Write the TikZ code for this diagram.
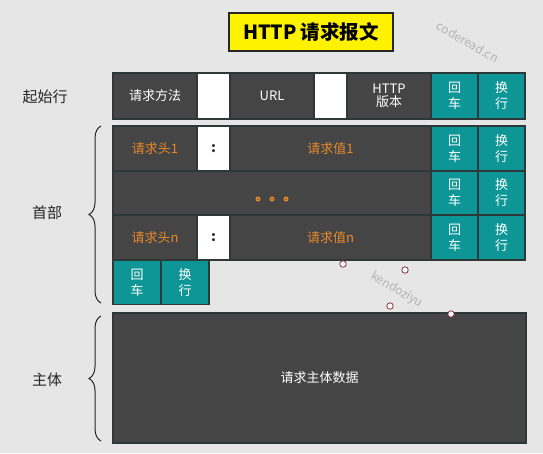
\documentclass[tikz,border=0pt]{standalone}
\usepackage{fontspec}
\setmainfont{Noto Sans CJK SC}
\usetikzlibrary{decorations.pathreplacing}
\definecolor{bg}{HTML}{E6E6E6}
\definecolor{darkcell}{HTML}{454545}
\definecolor{cellline}{HTML}{2E3838}
\definecolor{tealcell}{HTML}{0E9696}
\definecolor{orangetxt}{HTML}{E8892A}
\definecolor{labeltxt}{HTML}{262626}
\definecolor{wmark}{HTML}{B4B4B4}
\definecolor{handle}{HTML}{8A2E3E}
\tikzset{
  cell/.style={draw=cellline, line width=1.3pt, fill=darkcell, text=white, inner sep=0pt, align=center,
    font=\fontsize{13}{15}\selectfont},
  whitecell/.style={cell, fill=white, text=labeltxt, font=\fontsize{14}{15}\selectfont\bfseries},
  tealbox/.style={cell, fill=tealcell, font=\fontsize{13}{16}\selectfont},
  hdr/.style={cell, text=orangetxt},
  sidelabel/.style={text=labeltxt, font=\fontsize{15}{17}\selectfont},
  bracestyle/.style={draw=labeltxt, line width=1pt, decorate, decoration={brace, amplitude=12pt}},
  wm/.style={text=wmark, rotate=-30, font=\fontsize{12}{14}\selectfont},
  hnd/.style={circle, draw=handle, fill=white, line width=0.8pt, minimum size=6.5pt, inner sep=0pt}
}
\begin{document}
\begin{tikzpicture}[x=1pt,y=-1pt]
\fill[bg] (0,0) rectangle (543,453);
\useasboundingbox (0,0) rectangle (543,453);
% title
\node[draw=labeltxt, line width=1.5pt, fill=yellow, minimum width=164pt, minimum height=38pt, inner sep=0pt,
  font=\fontsize{19.5}{21}\selectfont\bfseries, text=black] (title) at (311,32) {HTTP 请求报文};
% watermarks
\node[wm] (wm1) at (468,42) {coderead.cn};
\node[wm] (wm2) at (397,290) {kendoziyu};
% row 1: start line
\node[cell, minimum width=84pt, minimum height=46pt] (m1) at (155,96) {请求方法};
\node[whitecell, minimum width=33pt, minimum height=46pt] (s1) at (213.5,96) {};
\node[cell, minimum width=84pt, minimum height=46pt] (url) at (272,96) {URL};
\node[whitecell, minimum width=33pt, minimum height=46pt] (s2) at (330.5,96) {};
\node[cell, minimum width=84pt, minimum height=46pt] (ver) at (389,96) {HTTP\\[-2pt]版本};
\node[tealbox, minimum width=47pt, minimum height=46pt] (cr1) at (454.5,96) {回\\车};
\node[tealbox, minimum width=47pt, minimum height=46pt] (lf1) at (501.5,96) {换\\行};
% row 2
\node[hdr, minimum width=84pt, minimum height=45pt] (h1) at (155,148.5) {请求头1};
\node[whitecell, minimum width=33pt, minimum height=45pt] (c1) at (213.5,148.5) {:};
\node[hdr, minimum width=201pt, minimum height=45pt] (v1) at (330.5,148.5) {请求值1};
\node[tealbox, minimum width=47pt, minimum height=45pt] (cr2) at (454.5,148.5) {回\\车};
\node[tealbox, minimum width=47pt, minimum height=45pt] (lf2) at (501.5,148.5) {换\\行};
% row 3
\node[hdr, minimum width=318pt, minimum height=44pt] (dots) at (272,193) {};
\foreach \dx in {-14,0,14} {
  \draw[orangetxt, line width=1pt, fill=orangetxt!60!darkcell] (dots.center) ++(\dx,6) circle (2);
}
\node[tealbox, minimum width=47pt, minimum height=44pt] (cr3) at (454.5,193) {回\\车};
\node[tealbox, minimum width=47pt, minimum height=44pt] (lf3) at (501.5,193) {换\\行};
% row 4
\node[hdr, minimum width=84pt, minimum height=45pt] (hn) at (155,237.5) {请求头n};
\node[whitecell, minimum width=33pt, minimum height=45pt] (cn) at (213.5,237.5) {:};
\node[hdr, minimum width=201pt, minimum height=45pt] (vn) at (330.5,237.5) {请求值n};
\node[tealbox, minimum width=47pt, minimum height=45pt] (cr4) at (454.5,237.5) {回\\车};
\node[tealbox, minimum width=47pt, minimum height=45pt] (lf4) at (501.5,237.5) {换\\行};
% row 5
\node[tealbox, minimum width=48pt, minimum height=44pt] (cr5) at (137,282.5) {回\\车};
\node[tealbox, minimum width=48pt, minimum height=44pt] (lf5) at (185,282.5) {换\\行};
% body
\node[cell, minimum width=413pt, minimum height=130pt] (body) at (319.5,378) {请求主体数据};
% side labels
\node[sidelabel] (lstart) at (45,97) {起始行};
\node[sidelabel] (lhead) at (47,213) {首部};
\node[sidelabel] (lbody) at (47,380) {主体};
% braces
\coordinate (b1s) at (101,303);
\coordinate (b1e) at (101,126);
\coordinate (b2s) at (101,441);
\coordinate (b2e) at (101,316);
\draw[bracestyle] (b1s) -- (b1e);
\draw[bracestyle] (b2s) -- (b2e);
% handles
\node[hnd] (k1) at (343,264) {};
\node[hnd] (k2) at (405,270) {};
\node[hnd] (k3) at (390,306) {};
\node[hnd] (k4) at (451,314) {};
\end{tikzpicture}
\end{document}
